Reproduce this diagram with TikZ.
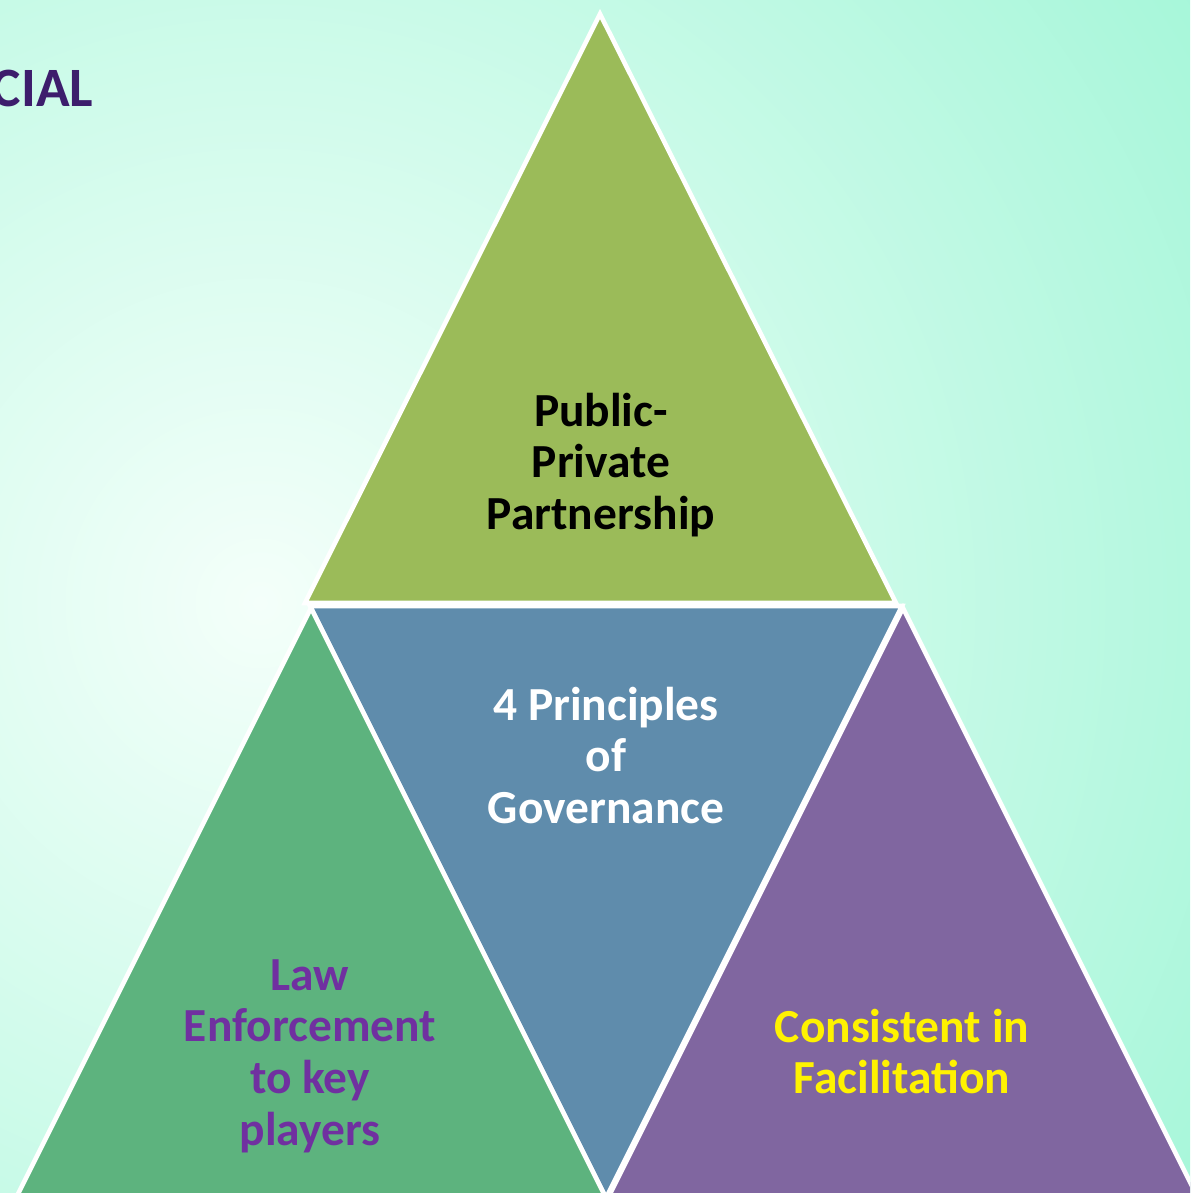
\documentclass[tikz,border=0pt]{standalone}
\usepackage{fontspec}
\setmainfont{Carlito}
\usetikzlibrary{positioning}

\definecolor{bgin}{HTML}{F4FFFA}
\definecolor{bgout}{HTML}{9AF5D4}
\definecolor{ppp}{HTML}{9BBB59}
\definecolor{gov}{HTML}{5F8CAC}
\definecolor{law}{HTML}{5DB37E}
\definecolor{fac}{HTML}{8066A0}
\definecolor{lawtext}{HTML}{7030A0}
\definecolor{titletext}{HTML}{3D1D6C}

\begin{document}
\begin{tikzpicture}[tri/.style={draw=white, line width=1.3pt},
	lbl/.style={align=center, font=\fontsize{13.5}{14.7}\selectfont\bfseries}]
	\useasboundingbox (0,0) rectangle (11.9,11.93);
	\clip (0,0) rectangle (11.9,11.93);
	% background
	\shade[inner color=bgin, outer color=bgout] (2.6,5.9) circle (13);
	\node[anchor=base east, text=titletext, font=\fontsize{15.8}{19}\selectfont\bfseries, inner sep=0pt]
		(title) at (0.94,10.86) {CIAL};
	
	% four triangles
	\filldraw[tri, fill=ppp] 	(6.00,11.79) -- (3.05,5.90) -- (8.96,5.90) -- cycle;
	\filldraw[tri, fill=gov] 	(3.10,5.87) -- (9.02,5.87) -- (6.06,-0.05) -- cycle;
	\filldraw[tri, fill=law] 	(3.11,5.85) -- (0.15,-0.07) -- (6.07,-0.07) -- cycle;
	\filldraw[tri, fill=fac] 	(9.03,5.85) -- (6.07,-0.07) -- (11.99,-0.07) -- cycle;
	
	\node[lbl, text=black] 		(partner) 	at (6.01,7.28) 	{Public-\\Private\\Partnership};
	\node[lbl, text=white] 		(govern) 	at (6.06,4.375) 	{4 Principles\\of\\Governance};
	\node[lbl, text=lawtext] 	(enforce) 	at (3.10,1.37) 	{Law\\Enforcement\\to key\\players};
	\node[lbl, text=yellow] 	(facil) 	at (9.02,1.415) 	{Consistent in\\Facilitation};
\end{tikzpicture}
\end{document}
